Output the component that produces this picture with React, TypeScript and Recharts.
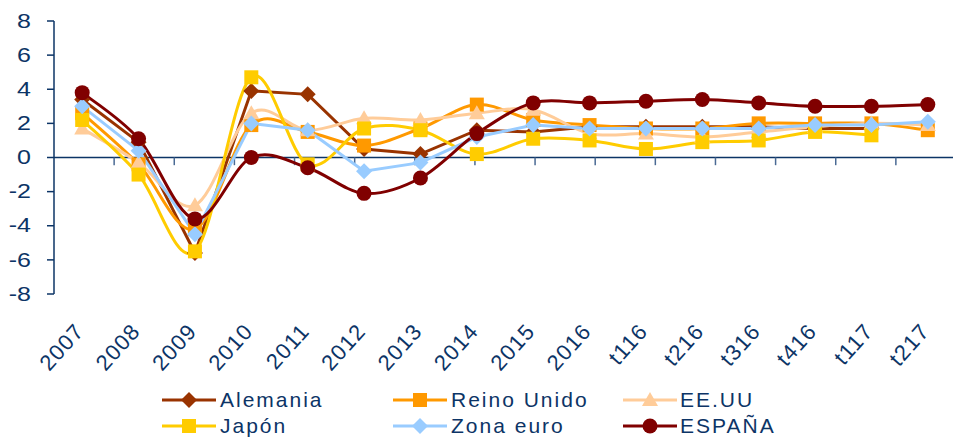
import { LineChart, Line, XAxis, YAxis, CartesianGrid, ReferenceLine } from 'recharts';

const categories = ['2007', '2008', '2009', '2010', '2011', '2012', '2013', '2014', '2015', '2016', 't116', 't216', 't316', 't416', 't117', 't217'];

const alemania = [3.4, 0.9, -5.6, 3.9, 3.7, 0.5, 0.2, 1.6, 1.5, 1.8, 1.8, 1.8, 1.8, 1.7, 1.7, null];
const reinoUnido = [2.6, -0.4, -4.2, 1.9, 1.5, 0.7, 1.7, 3.1, 2.2, 1.9, 1.7, 1.7, 2.0, 2.0, 2.0, 1.6];
const eeuu = [1.7, -0.3, -2.8, 2.6, 1.6, 2.3, 2.2, 2.6, 2.8, 1.4, 1.4, 1.2, 1.5, 1.8, 2.0, 1.9];
const japon = [2.2, -1.0, -5.5, 4.7, -0.4, 1.7, 1.6, 0.2, 1.1, 1.0, 0.5, 0.9, 1.0, 1.5, 1.3, null];
const zonaEuro = [3.0, 0.4, -4.5, 2.0, 1.6, -0.8, -0.3, 1.2, 1.9, 1.7, 1.7, 1.7, 1.7, 1.9, 1.9, 2.1];
const espana = [3.8, 1.1, -3.6, 0.0, -0.6, -2.1, -1.2, 1.4, 3.2, 3.2, 3.3, 3.4, 3.2, 3.0, 3.0, 3.1];

const yTicks = [-8, -6, -4, -2, 0, 2, 4, 6, 8];
// category boundaries for the little tick marks hanging off the zero line
const boundaries = [1, 2, 3, 4, 5, 6, 7, 8, 9, 10, 11, 12, 13, 14, 15];

const NAVY = '#0c3466';

type Shape = 'diamond' | 'square' | 'triangle' | 'circle';

const series: { key: string; name: string; color: string; shape: Shape; smooth: boolean; values: (number | null)[] }[] = [
  { key: 'alemania', name: 'Alemania', color: '#993300', shape: 'diamond', smooth: false, values: alemania },
  { key: 'reino', name: 'Reino Unido', color: '#FF9900', shape: 'square', smooth: true, values: reinoUnido },
  { key: 'eeuu', name: 'EE.UU', color: '#FFCC99', shape: 'triangle', smooth: true, values: eeuu },
  { key: 'japon', name: 'Japón', color: '#FFCC00', shape: 'square', smooth: true, values: japon },
  { key: 'zona', name: 'Zona euro', color: '#99CCFF', shape: 'diamond', smooth: false, values: zonaEuro },
  { key: 'espana', name: 'ESPAÑA', color: '#800000', shape: 'circle', smooth: true, values: espana },
];

const data = categories.map((cat, i) => {
  const row: any = { cat };
  series.forEach(s => { row[s.key] = s.values[i]; });
  return row;
});

// Excel-like smoothed line (Catmull-Rom as cubic bezier)
const excelSmooth = (context: any) => {
  let pts: number[][] = [];
  return {
    areaStart() {},
    areaEnd() {},
    lineStart() { pts = []; },
    point(x: number, y: number) { pts.push([+x, +y]); },
    lineEnd() {
      if (!pts.length) return;
      context.moveTo(pts[0][0], pts[0][1]);
      for (let i = 0; i < pts.length - 1; i++) {
        const p0 = pts[i - 1] || pts[i];
        const p1 = pts[i];
        const p2 = pts[i + 1];
        const p3 = pts[i + 2] || p2;
        context.bezierCurveTo(
          p1[0] + (p2[0] - p0[0]) / 6, p1[1] + (p2[1] - p0[1]) / 6,
          p2[0] - (p3[0] - p1[0]) / 6, p2[1] - (p3[1] - p1[1]) / 6,
          p2[0], p2[1],
        );
      }
    },
  };
};

const Marker = ({ shape, cx, cy, color }: { shape: Shape; cx: number; cy: number; color: string }) => {
  if (shape === 'circle') return <circle cx={cx} cy={cy} r={7.5} fill={color} />;
  if (shape === 'square') return <rect x={cx - 7} y={cy - 7} width={14} height={14} fill={color} />;
  if (shape === 'diamond') return <path d={`M${cx},${cy - 8}L${cx + 8},${cy}L${cx},${cy + 8}L${cx - 8},${cy}Z`} fill={color} />;
  return <path d={`M${cx},${cy - 8}L${cx + 8},${cy + 6}L${cx - 8},${cy + 6}Z`} fill={color} />;
};

const makeDot = (shape: Shape, color: string) => (props: any) => {
  const { cx, cy, index } = props;
  if (cx == null || cy == null || props.value == null) return <g key={`d-${index}`} />;
  return <g key={`d-${index}`}><Marker shape={shape} cx={cx} cy={cy} color={color} /></g>;
};

const YTick = ({ x, y, payload }: any) => (
  <text transform={`translate(${x},${y}) scale(1.25,1)`} textAnchor="end" dominantBaseline="central" fill={NAVY} fontSize={20}>
    {payload.value}
  </text>
);

const XTick = ({ x, y, payload }: any) => (
  <text transform={`translate(${x + 3},${y + 30}) rotate(-48)`} textAnchor="end" fill={NAVY} fontSize={22} letterSpacing={1.2}>
    {payload.value}
  </text>
);

const legendCols = [
  { icon: 162, text: 220 },
  { icon: 393, text: 451 },
  { icon: 623, text: 680 },
];
const legendRows = [400, 426];

const Legend = () => (
  <>
    {series.map((s, i) => {
      const col = legendCols[i % 3];
      const rowY = legendRows[Math.floor(i / 3)];
      return (
        <div key={s.key}>
          <svg style={{ position: 'absolute', left: col.icon, top: rowY - 10 }} width={54} height={20}>
            <line x1={0} x2={54} y1={10} y2={10} stroke={s.color} strokeWidth={3} />
            <Marker shape={s.shape} cx={27} cy={10} color={s.color} />
          </svg>
          <div style={{
            position: 'absolute', left: col.text, top: rowY - 10, fontSize: 21, lineHeight: '20px',
            color: NAVY, whiteSpace: 'nowrap', letterSpacing: 2,
          }}>
            {s.name}
          </div>
        </div>
      );
    })}
  </>
);

export default function App() {
  return (
    <div style={{
      position: 'absolute', left: 0, top: 0, width: 953, height: 438, overflow: 'hidden',
      background: '#fff', fontFamily: '"Liberation Sans", Arial, sans-serif',
    }}>
      <LineChart width={956} height={380} data={data} margin={{ top: 21, right: 0, bottom: 0, left: 0 }}>
        <CartesianGrid vertical={false} horizontalValues={[0]} stroke={NAVY} strokeWidth={1.5} />
        <XAxis dataKey="cat" scale="band" interval={0} axisLine={false} tickLine={false} height={86} tick={<XTick />} />
        <XAxis xAxisId="n" type="number" domain={[0, 16]} hide />
        <YAxis
          domain={[-8, 8]}
          ticks={yTicks}
          interval={0}
          width={54}
          axisLine={{ stroke: NAVY, strokeWidth: 1.5 }}
          tickLine={{ stroke: NAVY, strokeWidth: 1.5 }}
          tickSize={7}
          tickMargin={16}
          tick={<YTick />}
        />
        {boundaries.map(b => (
          <ReferenceLine
            key={b}
            xAxisId="n"
            segment={[{ x: b, y: 0 }, { x: b, y: -0.45 }]}
            stroke="#4a6a94"
            strokeWidth={1.5}
          />
        ))}
        {series.map(s => (
          <Line
            key={s.key}
            dataKey={s.key}
            name={s.name}
            type={s.smooth ? (excelSmooth as any) : 'linear'}
            stroke={s.color}
            strokeWidth={3}
            dot={makeDot(s.shape, s.color)}
            activeDot={false}
            isAnimationActive={false}
          />
        ))}
      </LineChart>
      <Legend />
    </div>
  );
}
